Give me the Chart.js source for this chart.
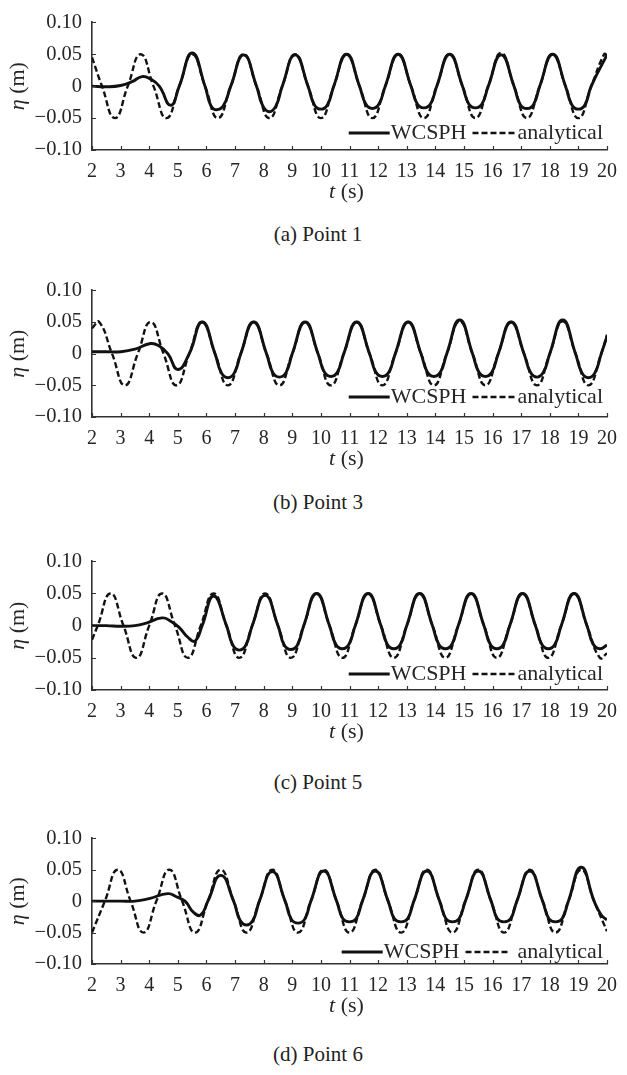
<!DOCTYPE html>
<html>
<head>
<meta charset="utf-8">
<script src="https://cdn.jsdelivr.net/npm/chart.js@4.4.0/dist/chart.umd.min.js"></script>
<style>
  html, body { margin: 0; padding: 0; background: #fff; }
  body { width: 627px; height: 1075px; position: relative; overflow: hidden; }
  canvas { position: absolute; left: 0; }
  .cap { position: absolute; left: 0; width: 636px; text-align: center;
         font-family: "Liberation Serif", Tinos, serif; font-size: 21px; color: #222; line-height: 24px; }
</style>
</head>
<body>
<canvas id="c1"></canvas>
<canvas id="c2"></canvas>
<canvas id="c3"></canvas>
<canvas id="c4"></canvas>
<div class="cap" id="cap1"></div>
<div class="cap" id="cap2"></div>
<div class="cap" id="cap3"></div>
<div class="cap" id="cap4"></div>
<script>
// Datos
const xTicks = [2, 3, 4, 5, 6, 7, 8, 9, 10, 11, 12, 13, 14, 15, 16, 17, 18, 19, 20];
const yTicks = [-0.1, -0.05, 0, 0.05, 0.1];
const yTickLabels = ["\u22120.10", "\u22120.05", "0", "0.05", "0.10"];
const seriesNames = ["WCSPH", "analytical"];
const captions = ["(a) Point 1", "(b) Point 3", "(c) Point 5", "(d) Point 6"];

// [t (s), eta (m)]
const p1Wcsph = [[2.0,0.000],[2.5,-0.001],[3.0,0.001],[3.4,0.007],[3.75,0.015],[4.05,0.011],[4.35,0.000],[4.75,-0.030],[5.05,0.000],[5.5,0.052],
  [5.95,0.000],[6.15,-0.030],[6.35,-0.037],[6.6,-0.030],[6.85,0.000],[7.3,0.049],
  [7.75,0.000],[7.97,-0.031],[8.2,-0.040],[8.43,-0.031],[8.65,0.000],[9.1,0.049],
  [9.55,0.000],[9.77,-0.029],[10.0,-0.036],[10.23,-0.029],[10.45,0.000],[10.9,0.050],
  [11.35,0.000],[11.57,-0.028],[11.8,-0.035],[12.03,-0.028],[12.25,0.000],[12.7,0.050],
  [13.15,0.000],[13.37,-0.028],[13.6,-0.034],[13.83,-0.028],[14.05,0.000],[14.5,0.050],
  [14.95,0.000],[15.17,-0.028],[15.4,-0.034],[15.63,-0.028],[15.85,0.000],[16.3,0.049],
  [16.75,0.000],[16.97,-0.029],[17.2,-0.035],[17.43,-0.029],[17.65,0.000],[18.1,0.050],
  [18.55,0.000],[18.77,-0.029],[19.0,-0.036],[19.23,-0.029],[19.45,0.000],[20.0,0.049]];
const p1Analytical = [[2.0,0.045],[2.35,0.000],[2.8,-0.050],[3.25,0.000],[3.7,0.050],[4.15,0.000],[4.6,-0.050],[5.05,0.000],[5.5,0.050],[5.95,0.000],[6.4,-0.050],[6.85,0.000],[7.3,0.050],[7.75,0.000],[8.2,-0.050],[8.65,0.000],[9.1,0.050],[9.55,0.000],[10.0,-0.050],[10.45,0.000],[10.9,0.050],[11.35,0.000],[11.8,-0.050],[12.25,0.000],[12.7,0.050],[13.15,0.000],[13.6,-0.050],[14.05,0.000],[14.5,0.050],[14.95,0.000],[15.4,-0.050],[15.85,0.000],[16.3,0.052],[16.75,0.000],[17.2,-0.050],[17.65,0.000],[18.1,0.050],[18.55,0.000],[19.0,-0.050],[19.45,0.000],[19.9,0.050],[20.0,0.049]];

const p2Wcsph = [[2.0,0.003],[2.5,0.003],[3.0,0.003],[3.5,0.007],[4.05,0.016],[4.35,0.012],[4.65,0.000],[5.0,-0.025],[5.4,0.000],[5.85,0.050],
  [6.3,0.000],[6.52,-0.030],[6.75,-0.038],[6.98,-0.030],[7.2,0.000],[7.65,0.050],
  [8.1,0.000],[8.32,-0.030],[8.55,-0.037],[8.78,-0.030],[9.0,0.000],[9.45,0.050],
  [9.9,0.000],[10.12,-0.029],[10.35,-0.036],[10.58,-0.029],[10.8,0.000],[11.25,0.050],
  [11.7,0.000],[11.92,-0.029],[12.15,-0.036],[12.38,-0.029],[12.6,0.000],[13.05,0.050],
  [13.5,0.000],[13.72,-0.029],[13.95,-0.036],[14.18,-0.029],[14.4,0.000],[14.85,0.053],
  [15.3,0.000],[15.52,-0.029],[15.75,-0.036],[15.98,-0.029],[16.2,0.000],[16.65,0.050],
  [17.1,0.000],[17.32,-0.029],[17.55,-0.037],[17.78,-0.029],[18.0,0.000],[18.45,0.053],
  [18.9,0.000],[19.12,-0.030],[19.35,-0.038],[19.58,-0.030],[19.8,0.000],[20.0,0.027]];
const p2Analytical = [[2.0,0.040],[2.25,0.050],[2.7,0.000],[3.15,-0.050],[3.6,0.000],[4.05,0.050],[4.5,0.000],[4.95,-0.050],[5.4,0.000],[5.85,0.050],[6.3,0.000],[6.75,-0.050],[7.2,0.000],[7.65,0.050],[8.1,0.000],[8.55,-0.050],[9.0,0.000],[9.45,0.050],[9.9,0.000],[10.35,-0.050],[10.8,0.000],[11.25,0.050],[11.7,0.000],[12.15,-0.050],[12.6,0.000],[13.05,0.050],[13.5,0.000],[13.95,-0.050],[14.4,0.000],[14.85,0.051],[15.3,0.000],[15.75,-0.050],[16.2,0.000],[16.65,0.050],[17.1,0.000],[17.55,-0.050],[18.0,0.000],[18.45,0.051],[18.9,0.000],[19.35,-0.050],[19.8,0.000],[20.0,0.030]];

const p3Wcsph = [[2.0,0.000],[2.5,0.000],[3.0,-0.001],[3.5,0.000],[3.9,0.004],[4.45,0.012],[4.75,0.007],[5.05,-0.003],[5.35,-0.018],[5.6,-0.024],[5.85,0.000],[6.25,0.046],
  [6.7,0.000],[6.92,-0.030],[7.15,-0.038],[7.38,-0.030],[7.6,0.000],[8.05,0.047],
  [8.5,0.000],[8.72,-0.030],[8.95,-0.037],[9.18,-0.030],[9.4,0.000],[9.85,0.050],
  [10.3,0.000],[10.52,-0.029],[10.75,-0.036],[10.98,-0.029],[11.2,0.000],[11.65,0.050],
  [12.1,0.000],[12.32,-0.029],[12.55,-0.036],[12.78,-0.029],[13.0,0.000],[13.45,0.050],
  [13.9,0.000],[14.12,-0.029],[14.35,-0.036],[14.58,-0.029],[14.8,0.000],[15.25,0.050],
  [15.7,0.000],[15.92,-0.029],[16.15,-0.036],[16.38,-0.029],[16.6,0.000],[17.05,0.050],
  [17.5,0.000],[17.72,-0.029],[17.95,-0.036],[18.18,-0.029],[18.4,0.000],[18.85,0.050],
  [19.3,0.000],[19.52,-0.029],[19.75,-0.036],[20.0,-0.030]];
const p3Analytical = [[2.0,-0.022],[2.2,0.000],[2.65,0.050],[3.1,0.000],[3.55,-0.050],[4.0,0.000],[4.45,0.050],[4.9,0.000],[5.35,-0.050],[5.8,0.000],[6.25,0.050],[6.7,0.000],[7.15,-0.050],[7.6,0.000],[8.05,0.050],[8.5,0.000],[8.95,-0.050],[9.4,0.000],[9.85,0.050],[10.3,0.000],[10.75,-0.050],[11.2,0.000],[11.65,0.050],[12.1,0.000],[12.55,-0.050],[13.0,0.000],[13.45,0.050],[13.9,0.000],[14.35,-0.050],[14.8,0.000],[15.25,0.050],[15.7,0.000],[16.15,-0.050],[16.6,0.000],[17.05,0.050],[17.5,0.000],[17.95,-0.050],[18.4,0.000],[18.85,0.050],[19.3,0.000],[19.75,-0.050],[20.0,-0.043]];

const p4Wcsph = [[2.0,0.000],[2.5,0.000],[3.0,0.000],[3.5,0.000],[4.0,0.004],[4.65,0.012],[4.95,0.007],[5.25,0.000],[5.55,-0.018],[5.8,-0.022],[6.05,0.000],[6.5,0.041],
  [6.95,0.000],[7.17,-0.030],[7.4,-0.038],[7.63,-0.030],[7.85,0.000],[8.3,0.047],
  [8.75,0.000],[8.97,-0.029],[9.2,-0.035],[9.43,-0.029],[9.65,0.000],[10.1,0.048],
  [10.55,0.000],[10.77,-0.028],[11.0,-0.033],[11.23,-0.028],[11.45,0.000],[11.9,0.048],
  [12.35,0.000],[12.57,-0.028],[12.8,-0.033],[13.03,-0.028],[13.25,0.000],[13.7,0.048],
  [14.15,0.000],[14.37,-0.028],[14.6,-0.033],[14.83,-0.028],[15.05,0.000],[15.5,0.048],
  [15.95,0.000],[16.17,-0.028],[16.4,-0.033],[16.63,-0.028],[16.85,0.000],[17.3,0.048],
  [17.75,0.000],[17.97,-0.028],[18.2,-0.033],[18.43,-0.028],[18.65,0.000],[19.1,0.054],
  [19.55,0.000],[19.8,-0.022],[20.0,-0.030]];
const p4Analytical = [[2.0,-0.050],[2.45,0.000],[2.9,0.050],[3.35,0.000],[3.8,-0.050],[4.25,0.000],[4.7,0.050],[5.15,0.000],[5.6,-0.050],[6.05,0.000],[6.5,0.050],[6.95,0.000],[7.4,-0.050],[7.85,0.000],[8.3,0.050],[8.75,0.000],[9.2,-0.050],[9.65,0.000],[10.1,0.050],[10.55,0.000],[11.0,-0.050],[11.45,0.000],[11.9,0.050],[12.35,0.000],[12.8,-0.050],[13.25,0.000],[13.7,0.050],[14.15,0.000],[14.6,-0.050],[15.05,0.000],[15.5,0.050],[15.95,0.000],[16.4,-0.050],[16.85,0.000],[17.3,0.050],[17.75,0.000],[18.2,-0.050],[18.65,0.000],[19.1,0.050],[19.55,0.000],[20.0,-0.048]];

(function () {
  const FONT = '"Liberation Serif", Tinos, serif';
  const INK = "#111";
  const TXT = "#262626";

  Chart.defaults.font.family = FONT;

  // Posición de cada panel (área de gráfico y pie de figura)
  const panels = [
    { id: "c1", top: 15,  bottom: 150, w: p1Wcsph, a: p1Analytical, legUp: 17, legGap: 1, capY: 234 },
    { id: "c2", top: 283, bottom: 417, w: p2Wcsph, a: p2Analytical, legUp: 20, legGap: 1, capY: 502 },
    { id: "c3", top: 554, bottom: 690, w: p3Wcsph, a: p3Analytical, legUp: 16, legGap: 1, capY: 782 },
    { id: "c4", top: 831, bottom: 964, w: p4Wcsph, a: p4Analytical, legUp: 12, legGap: 8, capY: 1054 },
  ];
  const PAD_TOP = 15, X_AXIS_H = 65, Y_AXIS_W = 92, PAD_RIGHT = 14;

  const toXY = (arr) => arr.map(([t, v]) => ({ x: t, y: v }));

  // Ticks hacia dentro, títulos de ejes y leyenda
  const decor = {
    id: "decor",
    afterDraw(chart, args, opts) {
      const { ctx, chartArea: a, scales } = chart;
      const sx = scales.x, sy = scales.y;
      ctx.save();
      ctx.strokeStyle = "#333";
      ctx.lineWidth = 1.2;
      ctx.beginPath();
      sx.ticks.forEach((t) => {
        const px = Math.round(sx.getPixelForValue(t.value)) + 0.5;
        ctx.moveTo(px, a.bottom);
        ctx.lineTo(px, a.bottom - 4);
      });
      sy.ticks.forEach((t) => {
        const py = Math.round(sy.getPixelForValue(t.value)) + 0.5;
        ctx.moveTo(a.left, py);
        ctx.lineTo(a.left + 4, py);
      });
      ctx.stroke();

      // títulos con variable en cursiva
      const drawMixed = (parts, cx, cy) => {
        let total = 0;
        parts.forEach((p) => { ctx.font = p[1]; total += ctx.measureText(p[0]).width; });
        let x = cx - total / 2;
        ctx.textBaseline = "middle";
        ctx.textAlign = "left";
        ctx.fillStyle = TXT;
        parts.forEach((p) => { ctx.font = p[1]; ctx.fillText(p[0], x, cy); x += ctx.measureText(p[0]).width; });
      };
      const it = "italic 22px " + FONT, rm = "22px " + FONT;
      drawMixed([["t", it], [" (s)", rm]], (a.left + a.right) / 2 - 3, a.bottom + 42);
      ctx.save();
      ctx.translate(18, (a.top + a.bottom) / 2);
      ctx.rotate(-Math.PI / 2);
      drawMixed([["\u03b7", it], [" (m)", rm]], 0, 0);
      ctx.restore();

      // leyenda dentro del área, abajo a la derecha
      const ds = chart.data.datasets;
      const ly = a.bottom - opts.legUp;
      ctx.font = "22px " + FONT;
      ctx.textBaseline = "middle";
      ctx.textAlign = "left";
      ctx.fillStyle = TXT;
      const w1 = ctx.measureText(ds[0].label).width;
      const w2 = ctx.measureText(ds[1].label).width;
      const t2x = a.right - 4 - w2;
      const l2b = t2x - opts.legGap, l2a = l2b - 44;
      const t1x = l2a - 6 - w1;
      const l1b = t1x - 1, l1a = l1b - 41;
      ctx.fillText(ds[0].label, t1x, ly);
      ctx.fillText(ds[1].label, t2x, ly);
      ctx.strokeStyle = INK;
      ctx.lineWidth = ds[0].borderWidth;
      ctx.setLineDash([]);
      ctx.beginPath(); ctx.moveTo(l1a, ly); ctx.lineTo(l1b, ly); ctx.stroke();
      ctx.lineWidth = ds[1].borderWidth;
      ctx.setLineDash(ds[1].borderDash);
      ctx.beginPath(); ctx.moveTo(l2a, ly); ctx.lineTo(l2b, ly); ctx.stroke();
      ctx.restore();
    },
  };

  const renderPanel = (p, i) => {
    const canvas = document.getElementById(p.id);
    const h = p.bottom - p.top + PAD_TOP + X_AXIS_H;
    canvas.width = 627;
    canvas.height = h;
    canvas.style.top = (p.top - PAD_TOP) + "px";

    const cap = document.getElementById("cap" + (i + 1));
    cap.textContent = captions[i];
    cap.style.top = (p.capY - 12) + "px";

    new Chart(canvas.getContext("2d"), {
      type: "line",
      data: {
        datasets: [
          {
            label: seriesNames[0],
            data: toXY(p.w),
            borderColor: INK,
            borderWidth: 2.9,
            pointRadius: 0,
            tension: 0.5,
            fill: false,
          },
          {
            label: seriesNames[1],
            data: toXY(p.a),
            borderColor: INK,
            borderWidth: 2.4,
            borderDash: [6, 3],
            pointRadius: 0,
            tension: 0.5,
            fill: false,
          },
        ],
      },
      options: {
        responsive: false,
        animation: false,
        devicePixelRatio: 1,
        layout: { padding: { left: 0, right: PAD_RIGHT, top: PAD_TOP, bottom: 0 } },
        plugins: {
          legend: { display: false },
          tooltip: { enabled: false },
          decor: { legUp: p.legUp, legGap: p.legGap },
        },
        scales: {
          x: {
            type: "linear",
            min: 2,
            max: 20,
            afterBuildTicks: (s) => { s.ticks = xTicks.map((v) => ({ value: v })); },
            afterFit: (s) => { s.height = X_AXIS_H; },
            grid: { display: false, drawTicks: false },
            border: { display: true, color: "#333", width: 1.6 },
            ticks: {
              autoSkip: false,
              maxRotation: 0,
              padding: 10,
              color: TXT,
              font: { family: FONT, size: 20 },
              callback: (v) => String(v),
            },
          },
          y: {
            type: "linear",
            min: -0.1,
            max: 0.1,
            afterBuildTicks: (s) => { s.ticks = yTicks.map((v) => ({ value: v })); },
            afterFit: (s) => { s.width = Y_AXIS_W; },
            grid: { display: false, drawTicks: false },
            border: { display: true, color: "#333", width: 1.6 },
            ticks: {
              padding: 10,
              color: TXT,
              font: { family: FONT, size: 20.5 },
              callback: (v, idx) => yTickLabels[idx],
            },
          },
        },
      },
      plugins: [decor],
    });
  };

  panels.forEach(renderPanel);
})();
</script>
</body>
</html>
